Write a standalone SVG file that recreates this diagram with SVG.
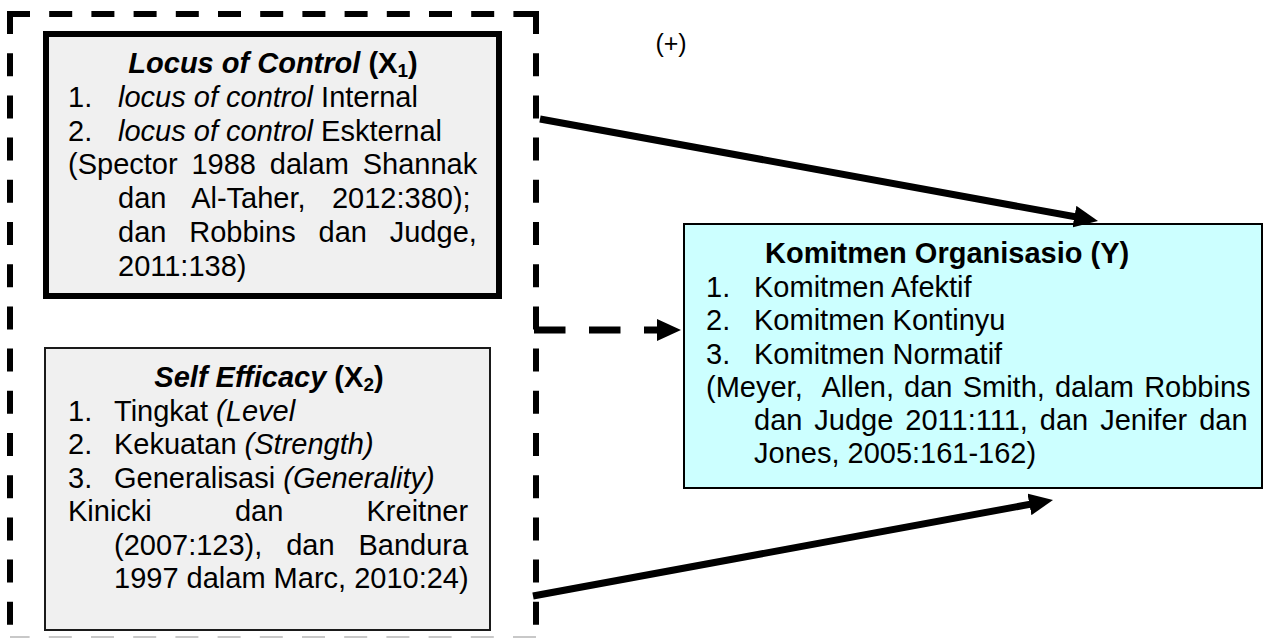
<svg xmlns="http://www.w3.org/2000/svg" width="1272" height="638" viewBox="0 0 1272 638">
<defs>
<marker id="ah" markerUnits="userSpaceOnUse" markerWidth="24" markerHeight="22" refX="12" refY="11" orient="auto"><path d="M0,0 L24,11 L0,22 z" fill="#000"/></marker>
<marker id="ah2" markerUnits="userSpaceOnUse" markerWidth="24" markerHeight="22" refX="10" refY="11" orient="auto"><path d="M0,0 L24,11 L0,22 z" fill="#000"/></marker>
<style>
text{font-family:"Liberation Sans",Arial,sans-serif;font-size:29px;fill:#000}
.b{font-weight:bold}
.i{font-style:italic}
.sub{font-size:19px}
.gray{fill:#f0f0f0}
.dash{stroke:#000;stroke-width:6;stroke-dasharray:23 19.2;fill:none}
.conn{stroke:#000;stroke-width:7;fill:none}
</style>
</defs>
<rect width="1272" height="638" fill="#fff"/>

<g id="outer-group">
<line class="dash" x1="7" y1="14" x2="539" y2="14"/>
<line class="dash" x1="10" y1="11" x2="10" y2="640"/>
<line class="dash" x1="536" y1="11" x2="536" y2="640"/>
<line x1="536" y1="637" x2="10" y2="637" stroke="#c8c8c8" stroke-width="2" stroke-dasharray="23 19.2"/>
</g>

<g id="locus-of-control">
<rect class="gray" x="46" y="34" width="453" height="262" stroke="#000" stroke-width="6"/>
<text x="273" y="73" text-anchor="middle" class="b"><tspan class="i">Locus of Control</tspan> (X<tspan class="sub" dy="4">1</tspan><tspan dy="-4">)</tspan></text>
<text y="106.8"><tspan x="68">1.</tspan><tspan x="118" class="i">locus of control</tspan> Internal</text>
<text y="140.6"><tspan x="68">2.</tspan><tspan x="118" class="i">locus of control</tspan> Eskternal</text>
<text x="68" y="174.4" word-spacing="5.8">(Spector 1988 dalam Shannak</text>
<text x="118" y="208.2" word-spacing="18.3">dan Al-Taher, 2012:380);</text>
<text x="118" y="242" word-spacing="14.8">dan Robbins dan Judge,</text>
<text x="118" y="275.8">2011:138)</text>
</g>

<g id="self-efficacy">
<rect class="gray" x="45" y="348" width="445" height="282" stroke="#1a1a1a" stroke-width="2"/>
<text x="269" y="387" text-anchor="middle" class="b"><tspan class="i">Self Efficacy</tspan> (X<tspan class="sub" dy="4">2</tspan><tspan dy="-4">)</tspan></text>
<text y="420.5"><tspan x="68">1.</tspan><tspan x="114">Tingkat </tspan><tspan class="i">(Level</tspan></text>
<text y="454"><tspan x="68">2.</tspan><tspan x="114">Kekuatan </tspan><tspan class="i">(Strength)</tspan></text>
<text y="487.5"><tspan x="68">3.</tspan><tspan x="114">Generalisasi </tspan><tspan class="i">(Generality)</tspan></text>
<text x="68" y="521" word-spacing="75.1">Kinicki dan Kreitner</text>
<text x="114" y="554.5" word-spacing="15.8">(2007:123), dan Bandura</text>
<text x="114" y="588">1997 dalam Marc, 2010:24)</text>
</g>

<g id="komitmen-organisasi">
<rect x="684" y="224" width="578" height="264" fill="#ccffff" stroke="#000" stroke-width="2"/>
<text x="765" y="263" class="b">Komitmen Organisasio (Y)</text>
<text y="297"><tspan x="706">1.</tspan><tspan x="754">Komitmen Afektif</tspan></text>
<text y="330"><tspan x="706">2.</tspan><tspan x="754">Komitmen Kontinyu</tspan></text>
<text y="363.5"><tspan x="706">3.</tspan><tspan x="754">Komitmen Normatif</tspan></text>
<text x="706" y="397" xml:space="preserve" word-spacing="2.1">(Meyer,  Allen, dan Smith, dalam Robbins</text>
<text x="754" y="430" word-spacing="3.9">dan Judge 2011:111, dan Jenifer dan</text>
<text x="754" y="463">Jones, 2005:161-162)</text>
</g>

<g id="connectors">
<line class="conn" x1="540" y1="119" x2="1086.2" y2="218.8" marker-end="url(#ah)"/>
<line class="conn" x1="533" y1="596" x2="1041.2" y2="502.2" marker-end="url(#ah)"/>
<line x1="534" y1="330" x2="667" y2="330" stroke="#000" stroke-width="7" stroke-dasharray="31.5 23.5" marker-end="url(#ah2)"/>
<text x="671" y="52" text-anchor="middle" style="font-size:25px">(+)</text>
</g>
</svg>
